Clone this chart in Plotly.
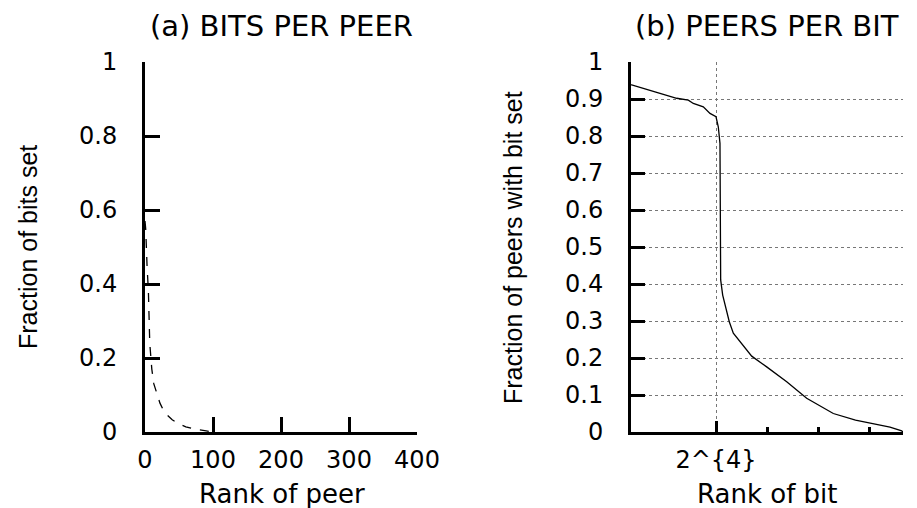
import plotly.graph_objects as go

# ---- Data ----
# (a) bits per peer: rank of peer vs fraction of bits set
peer_rank = [0, 1, 3, 5, 7, 10, 13, 18, 22, 27, 33, 40, 50, 60, 75, 90, 100]
bits_frac = [0.57, 0.55, 0.45, 0.38, 0.24, 0.17, 0.13, 0.10, 0.078, 0.059,
             0.045, 0.033, 0.022, 0.014, 0.007, 0.003, 0.0]

# (b) peers per bit: rank of bit vs fraction of peers with bit set
bit_rank = [0, 0.13, 5.46, 8.6, 10.79, 11.73, 13.61, 14.87, 16.0, 16.43, 16.75,
            16.81, 16.88, 17.26, 17.88, 18.5, 19.26, 21.14, 22.72, 25.54, 29.31,
            33.07, 38.08, 42.26, 45.61, 48.75, 50.96, 51.2]
peers_frac = [0.938, 0.938, 0.915, 0.902, 0.897, 0.888, 0.879, 0.861, 0.852,
              0.825, 0.780, 0.546, 0.411, 0.370, 0.330, 0.298, 0.267, 0.235,
              0.205, 0.176, 0.136, 0.091, 0.050, 0.032, 0.023, 0.013, 0.003, 0.0]

a_xticks = [0, 100, 200, 300, 400]
a_yticks = [0, 0.2, 0.4, 0.6, 0.8, 1]
a_yticklabels = ["0", "0.2", "0.4", "0.6", "0.8", "1"]
b_yticks = [0, 0.1, 0.2, 0.3, 0.4, 0.5, 0.6, 0.7, 0.8, 0.9, 1]
b_yticklabels = ["0", "0.1", "0.2", "0.3", "0.4", "0.5", "0.6", "0.7", "0.8", "0.9", "1"]
b_major_tick = [16]
b_major_label = ["2^{4}"]
b_minor_ticks = [25.6, 35.2, 44.8]

TXT = "DejaVu Sans, Liberation Sans, Arial, sans-serif"
YT = "Liberation Sans, Arial, sans-serif"
W, H = 917, 508

fig = go.Figure()
fig.add_trace(go.Scatter(x=peer_rank, y=bits_frac, mode="lines",
                         line=dict(color="black", width=1.3, dash="dash"),
                         xaxis="x", yaxis="y", showlegend=False))
fig.add_trace(go.Scatter(x=bit_rank, y=peers_frac, mode="lines",
                         line=dict(color="black", width=1.3),
                         xaxis="x2", yaxis="y2", showlegend=False))

ydom = [1 - 432 / H, 1 - 62 / H]
axis_common = dict(showline=True, linecolor="black", linewidth=3,
                   ticks="inside", tickcolor="black", tickwidth=2.5,
                   zeroline=False, automargin=False,
                   tickfont=dict(family=TXT, size=24, color="black"))

fig.update_layout(
    width=W, height=H,
    margin=dict(l=0, r=0, t=0, b=0, autoexpand=False),
    paper_bgcolor="white", plot_bgcolor="white",
    xaxis=dict(domain=[145 / W, 417 / W], range=[0, 400], tickvals=a_xticks,
               ticklen=15, showgrid=False, ticklabelstandoff=4, anchor="y",
               **axis_common),
    yaxis=dict(domain=ydom, range=[0, 1], tickvals=a_yticks, ticktext=a_yticklabels,
               ticklen=15, showgrid=False, ticklabelstandoff=20, anchor="x",
               **axis_common),
    xaxis2=dict(domain=[631 / W, 903 / W], range=[0, 51.2], tickvals=b_major_tick,
                ticktext=b_major_label, ticklen=11, ticklabelstandoff=4, anchor="y2",
                showgrid=True, gridcolor="#777777", griddash="dot", gridwidth=1,
                minor=dict(tickvals=b_minor_ticks, ticks="inside", ticklen=5,
                           tickwidth=2.5, tickcolor="black", showgrid=False),
                **axis_common),
    yaxis2=dict(domain=ydom, range=[0, 1], tickvals=b_yticks, ticktext=b_yticklabels,
                ticklen=14, ticklabelstandoff=20, anchor="x2",
                showgrid=True, gridcolor="#777777", griddash="dot", gridwidth=1,
                **axis_common),
)

ann = [
    dict(text="(a) BITS PER PEER", x=281 / W, y=1 - 26 / H, size=29, family=TXT, angle=0),
    dict(text="(b) PEERS PER BIT", x=767 / W, y=1 - 26 / H, size=29, family=TXT, angle=0),
    dict(text="Rank of peer", x=282 / W, y=1 - 494 / H, size=26, family=TXT, angle=0),
    dict(text="Rank of bit", x=767 / W, y=1 - 494 / H, size=26, family=TXT, angle=0),
    dict(text="Fraction of bits set", x=28 / W, y=1 - 247 / H, size=25, family=YT, angle=-90),
    dict(text="Fraction of peers with bit set", x=513 / W, y=1 - 248 / H, size=25, family=YT, angle=-90),
]
for a in ann:
    fig.add_annotation(text=a["text"], x=a["x"], y=a["y"], xref="paper", yref="paper",
                       xanchor="center", yanchor="middle", showarrow=False,
                       textangle=a["angle"],
                       font=dict(family=a["family"], size=a["size"], color="black"))

fig.write_html("out.html", config={"displayModeBar": False},
               post_script="document.body.style.margin='0';document.body.style.overflow='hidden';")
